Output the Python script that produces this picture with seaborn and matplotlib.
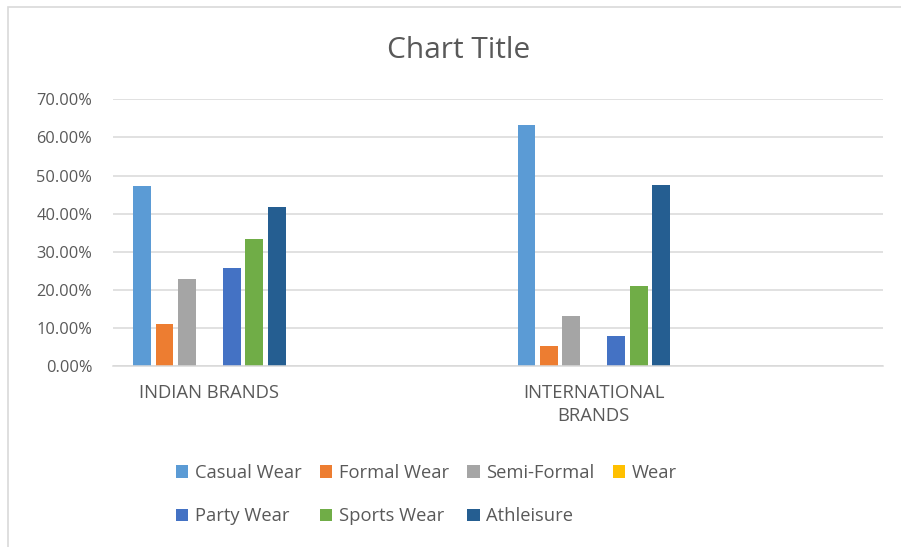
import matplotlib
matplotlib.use("Agg")
import matplotlib.pyplot as plt
import seaborn as sns
import pandas as pd
from matplotlib.patches import Rectangle
from matplotlib.ticker import PercentFormatter

# ---- data ----
categories = ["INDIAN BRANDS", "INTERNATIONAL BRANDS"]
category_labels = ["INDIAN BRANDS", "INTERNATIONAL\nBRANDS"]
series = ["Casual Wear", "Formal Wear", "Semi-Formal", "Wear",
          "Party Wear", "Sports Wear", "Athleisure"]
indian_values = [0.472, 0.111, 0.228, 0.0, 0.256, 0.333, 0.417]
international_values = [0.632, 0.053, 0.132, 0.0, 0.079, 0.210, 0.474]
colors = ["#5B9BD5", "#ED7D31", "#A5A5A5", "#FFC000",
          "#4472C4", "#70AD47", "#255E91"]
yticks = [0.0, 0.1, 0.2, 0.3, 0.4, 0.5, 0.6, 0.7]

rows = []
for cat, vals in zip(categories, [indian_values, international_values]):
    for s, v in zip(series, vals):
        rows.append({"brand": cat, "series": s, "value": v})
df = pd.DataFrame(rows)

sns.set_theme(style="white")
plt.rcParams["font.family"] = ["Open Sans", "DejaVu Sans"]
TXT = "#595959"
GRID = "#D9D9D9"

W, H = 901, 547
fig = plt.figure(figsize=(W / 100, H / 100), dpi=100)
fig.patch.set_facecolor("white")

L, R, T, B = 113, 883, 99.3, 366
ax = fig.add_axes([L / W, 1 - B / H, (R - L) / W, (B - T) / H])

sns.barplot(data=df, x="brand", y="value", hue="series", order=categories,
            hue_order=series, palette=colors, width=0.409, gap=0.21,
            errorbar=None, linewidth=0, saturation=1, ax=ax)

ax.set_xlim(-0.2508, 1.7523)
ax.set_ylim(0, 0.7)
ax.set_yticks(yticks)
ax.yaxis.set_major_formatter(PercentFormatter(1.0, decimals=2))
ax.grid(axis="y", color=GRID, linewidth=1.1)
ax.set_axisbelow(True)
for sp in ["top", "right", "left"]:
    ax.spines[sp].set_visible(False)
ax.spines["bottom"].set_color(GRID)
ax.spines["bottom"].set_linewidth(1.1)
ax.set_xlabel("")
ax.set_ylabel("")
ax.set_xticks(range(len(categories)))
ax.set_xticklabels(category_labels, fontsize=13.3, color=TXT,
                   linespacing=1.38, multialignment="center")
ax.tick_params(axis="x", length=0, pad=13)
ax.tick_params(axis="y", length=0, pad=15, labelsize=11.8, labelcolor=TXT)
ax.set_facecolor("white")

# legend
old = ax.get_legend()
handles, labels = ax.get_legend_handles_labels()
if old is not None:
    old.remove()
order = [0, 4, 1, 5, 2, 6, 3]
fig.legend([handles[i] for i in order], [labels[i] for i in order],
           ncol=4, loc="upper left", bbox_to_anchor=(176 / W, 1 - 464 / H),
           frameon=False, fontsize=13.2, labelcolor=TXT,
           handlelength=0.68, handleheight=0.68, handletextpad=0.35,
           columnspacing=1.0, labelspacing=1.38, borderpad=0, borderaxespad=0)

fig.text(459 / W, 1 - 50 / H, "Chart Title", ha="center", va="center",
         fontsize=21.5, color=TXT)

fig.patches.append(Rectangle((7.5 / W, -0.1), 1.2, 1 - 7 / H + 0.1,
                             transform=fig.transFigure, fill=False,
                             edgecolor=GRID, linewidth=1.2))

fig.savefig("out.png", dpi=100, facecolor="white")
